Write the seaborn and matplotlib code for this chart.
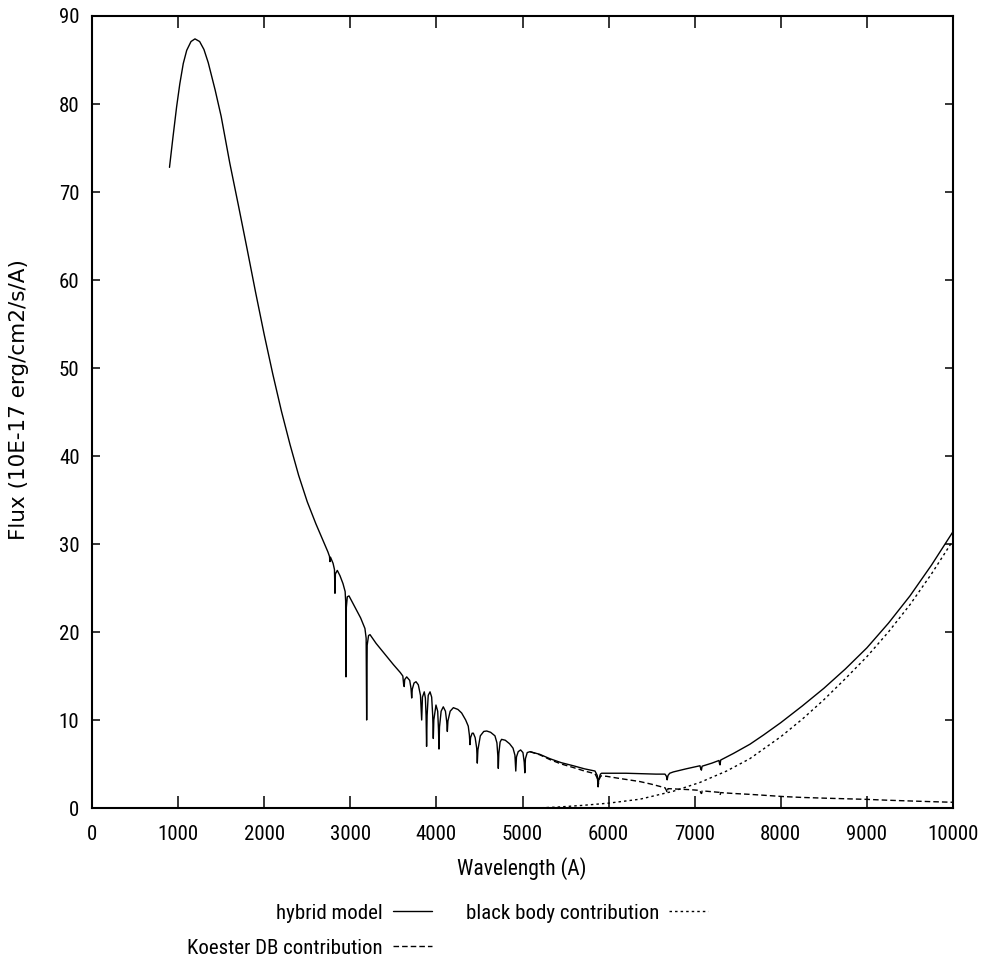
import os
import matplotlib
matplotlib.use("Agg")
import matplotlib.pyplot as plt
import seaborn as sns
import pandas as pd
from matplotlib import font_manager
from matplotlib.font_manager import FontProperties

# ---------------- data ----------------
hybrid_wave = [900, 940, 983, 1020, 1060, 1100, 1150, 1196, 1250, 1300, 1350, 1430, 1500,
               1600, 1700, 1800, 1900, 2000, 2100, 2200, 2300, 2400, 2500, 2600, 2687,
               2740, 2758, 2764, 2770, 2800, 2816, 2822, 2827, 2849, 2880, 2915, 2940,
               2946, 2950, 2954, 2965, 2985, 3050, 3120, 3170, 3184, 3190, 3196, 3212,
               3229, 3300, 3400, 3500, 3580, 3610, 3620, 3626, 3632, 3655, 3690, 3705,
               3713, 3720, 3740, 3763, 3790, 3815, 3829, 3838, 3859, 3872, 3880, 3886,
               3892, 3905, 3926, 3945, 3957, 3964, 3970, 3995, 4015, 4024, 4030, 4036,
               4055, 4080, 4105, 4120, 4127, 4134, 4160, 4197, 4250, 4293, 4340, 4370,
               4383, 4390, 4397, 4415, 4429, 4450, 4468, 4475, 4482, 4510, 4550, 4584,
               4630, 4680, 4703, 4713, 4719, 4725, 4740, 4757, 4800, 4850, 4890, 4912,
               4922, 4930, 4950, 4978, 5005, 5020, 5027, 5034, 5055, 5087, 5200, 5319,
               5450, 5590, 5720, 5842, 5868, 5878, 5886, 5905, 5919, 6016, 6200, 6400,
               6550, 6655, 6672, 6680, 6690, 6710, 6752, 6900, 7061, 7072, 7078, 7086,
               7200, 7282, 7288, 7294, 7302, 7450, 7642, 7800, 8000, 8250, 8500, 8750,
               9000, 9250, 9500, 9750, 10000]
hybrid_flux = [72.8, 76.2, 79.7, 82.3, 84.6, 86.1, 87.1, 87.4, 87.1, 86.2, 84.7, 81.6, 78.6,
               73.3, 68.5, 63.6, 58.6, 53.8, 49.3, 45.1, 41.3, 37.8, 34.8, 32.3, 30.3,
               29.1, 28.6, 28.0, 28.5, 27.8, 27.1, 24.4, 26.6, 27.0, 26.4, 25.5, 24.6,
               23.5, 14.9, 22.8, 24.0, 24.1, 22.9, 21.6, 20.4, 19.3, 10.0, 18.5, 19.6,
               19.7, 18.7, 17.5, 16.3, 15.4, 15.0, 14.0, 13.8, 14.6, 14.9, 14.5, 13.6,
               12.5, 13.5, 14.2, 14.35, 14.0, 12.8, 10.0, 12.6, 13.2, 12.5, 10.5, 7.0,
               10.5, 12.8, 13.2, 12.6, 10.5, 7.9, 10.0, 11.7, 11.0, 9.0, 6.7, 9.2,
               11.0, 11.5, 11.0, 9.8, 8.7, 9.9, 11.0, 11.4, 11.2, 10.8, 10.0, 9.3,
               8.3, 7.2, 8.0, 8.5, 8.5, 8.0, 6.8, 5.1, 6.6, 8.2, 8.7, 8.75,
               8.6, 8.2, 7.4, 6.0, 4.5, 6.2, 7.5, 7.8, 7.7, 7.3, 6.8, 6.0,
               4.2, 5.8, 6.4, 6.6, 6.3, 5.2, 4.0, 5.6, 6.3, 6.4, 6.1, 5.6,
               5.15, 4.8, 4.45, 4.2, 3.7, 2.4, 3.3, 3.85, 3.95, 3.95, 3.95, 3.9,
               3.85, 3.85, 3.6, 3.2, 3.7, 3.95, 4.1, 4.45, 4.8, 4.4, 4.3, 4.75,
               5.1, 5.4, 5.05, 4.9, 5.45, 6.2, 7.25, 8.3, 9.7, 11.6, 13.6, 15.8,
               18.2, 21.0, 24.1, 27.6, 31.4]

koester_wave = [5087, 5200, 5319, 5450, 5590, 5720, 5842, 5868, 5880, 5888, 5910, 5977,
                6100, 6200, 6365, 6500, 6655, 6672, 6680, 6690, 6800, 6950, 7061, 7072,
                7080, 7088, 7200, 7285, 7294, 7302, 7450, 7642, 7800, 8029, 8250, 8500,
                8750, 9000, 9250, 9500, 9750, 10000]
koester_flux = [6.4, 6.05, 5.5, 5.0, 4.6, 4.2, 3.9, 3.4, 2.6, 3.2, 3.65, 3.6,
                3.4, 3.25, 3.0, 2.7, 2.3, 2.0, 1.75, 2.2, 2.15, 2.08, 2.0, 1.7,
                1.65, 1.95, 1.85, 1.78, 1.45, 1.75, 1.65, 1.55, 1.45, 1.3, 1.2, 1.12,
                1.05, 0.98, 0.88, 0.8, 0.72, 0.65]

bb_wave = [5150, 5400, 5700, 6000, 6365, 6750, 7060, 7370, 7640, 8000, 8250, 8500,
           8750, 9000, 9250, 9500, 9750, 10000]
bb_flux = [0.0, 0.1, 0.3, 0.55, 1.0, 1.9, 2.9, 4.2, 5.6, 8.1, 10.1, 12.3,
           14.7, 17.2, 20.0, 23.1, 26.6, 30.4]

series_labels = ["hybrid model", "Koester DB contribution", "black body contribution"]
x_ticks = list(range(0, 10001, 1000))
y_ticks = list(range(0, 91, 10))
x_label = "Wavelength (A)"
y_label = "Flux (10E-17 erg/cm2/s/A)"

W, H = 986, 963

# ---------------- style ----------------
sns.set_style("ticks")
plt.rcParams.update({
    "text.color": "black", "axes.labelcolor": "black", "axes.edgecolor": "black",
    "xtick.color": "black", "ytick.color": "black", "axes.linewidth": 1.5,
})

# look for a condensed sans font (the reference uses narrow Helvetica-like text)
narrow_path = None
try:
    files = font_manager.findSystemFonts()
except Exception:
    files = []
prefs = ["liberationsansnarrow-regular", "robotocondensed-regular", "arialnarrow",
         "opensans-condensedregular", "opensans_condensed-regular",
         "notosans-condensed.", "notosans-condensed-regular", "notosans-extracondensed.",
         "notosans-extracondensed-regular"]
low = {os.path.basename(f).lower(): f for f in files}
for p in prefs:
    hit = [v for k, v in low.items() if k.startswith(p)]
    if hit:
        narrow_path = hit[0]
        break

if narrow_path:
    font_manager.fontManager.addfont(narrow_path)
    tick_fp = FontProperties(fname=narrow_path, size=15)
    lab_fp = FontProperties(fname=narrow_path, size=15.5)
    leg_fp = FontProperties(fname=narrow_path, size=15)
else:
    tick_fp = FontProperties(family="Liberation Sans", size=14)
    lab_fp = FontProperties(family="Liberation Sans", size=14)
    leg_fp = FontProperties(family="Liberation Sans", size=13)

fig = plt.figure(figsize=(W / 100, H / 100), dpi=100)
ax = fig.add_axes([92 / W, 1 - 808 / H, (953 - 92) / W, (808 - 16) / H])

df_h = pd.DataFrame({"wave": hybrid_wave, "flux": hybrid_flux})
df_k = pd.DataFrame({"wave": koester_wave, "flux": koester_flux})
df_b = pd.DataFrame({"wave": bb_wave, "flux": bb_flux})

sns.lineplot(data=df_k, x="wave", y="flux", ax=ax, color="black", lw=1.0,
             estimator=None, sort=False, label=series_labels[1])
sns.lineplot(data=df_b, x="wave", y="flux", ax=ax, color="black", lw=1.0,
             estimator=None, sort=False, label=series_labels[2])
sns.lineplot(data=df_h, x="wave", y="flux", ax=ax, color="black", lw=1.0,
             estimator=None, sort=False, label=series_labels[0])
lines = ax.get_lines()
lines[0].set_linestyle((0, (4.0, 2.2)))
lines[1].set_linestyle((0, (1.8, 2.2)))

ax.set_xlim(0, 10000)
ax.set_ylim(0, 90)
ax.set_xticks(x_ticks)
ax.set_yticks(y_ticks)
ax.set_xticklabels([str(t) for t in x_ticks], fontproperties=tick_fp)
ax.set_yticklabels([str(t) for t in y_ticks], fontproperties=tick_fp)
ax.tick_params(axis="x", direction="in", length=8.6, width=1.1, top=True, pad=12)
ax.tick_params(axis="y", direction="in", length=5.8, width=1.1, right=True, pad=9)
for s in ax.spines.values():
    s.set_visible(True)
    s.set_linewidth(1.5)
ax.set_xlabel("")
ax.set_ylabel("")

fig.text(522 / W, 1 - 869 / H, x_label, ha="center", va="center", fontproperties=lab_fp)
fig.text(19 / W, 1 - 400 / H, y_label, ha="center", va="center",
         rotation=90, fontsize=15.5, family=["DejaVu Sans"])

handles, labels = ax.get_legend_handles_labels()
order = [labels.index(l) for l in series_labels]
handles = [handles[i] for i in order]
labels = [labels[i] for i in order]
ax.get_legend().remove()

fs_px = leg_fp.get_size_in_points() * 100 / 72.0


def make_legend(anchor, colgap_px, lspace):
    return fig.legend(handles, labels, ncol=2, markerfirst=False, frameon=False,
                      loc="upper left", bbox_to_anchor=anchor,
                      borderpad=0, borderaxespad=0, prop=leg_fp,
                      handlelength=39 / fs_px, handletextpad=10 / fs_px,
                      columnspacing=colgap_px / fs_px, labelspacing=lspace)


anchor = (233 / W, 1 - 899 / H)
colgap = 60
lspace = 0.5
leg = make_legend(anchor, colgap, lspace)
fig.canvas.draw()
r = fig.canvas.get_renderer()
hh = leg.legend_handles[0].get_window_extent(r)
bh = leg.legend_handles[2].get_window_extent(r)
t0 = leg.get_texts()[0].get_window_extent(r)
t1 = leg.get_texts()[1].get_window_extent(r)
pitch = (t0.y0 + t0.y1) / 2 - (t1.y0 + t1.y1) / 2
lspace_new = lspace + (35 - pitch) / fs_px
dx = 432 - hh.x1
dy = (H - 913) - (t0.y0 + t0.y1) / 2
colgap_new = max(34, colgap + (684 - (bh.x1 + dx)))
leg.remove()
leg = make_legend((anchor[0] + dx / W, anchor[1] + dy / H), colgap_new, lspace_new)

fig.savefig("out.png", dpi=100, facecolor="white")
